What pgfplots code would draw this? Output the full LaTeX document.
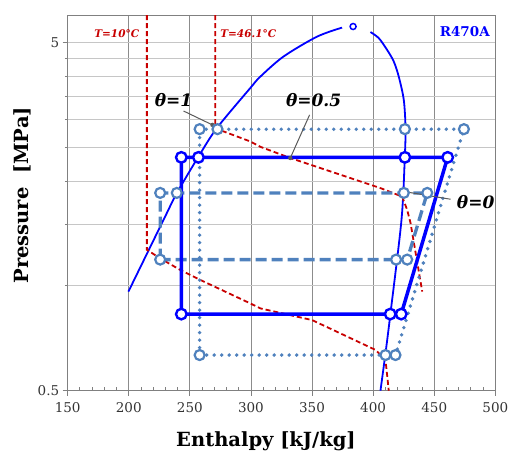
\documentclass[border=0pt]{standalone}
\usepackage{fontspec}
\setmainfont{DejaVu Serif}
\usepackage{pgfplots}
\pgfplotsset{compat=1.18}
\definecolor{myblue}{RGB}{0,0,255}
\definecolor{steel}{RGB}{79,129,189}
\definecolor{myred}{RGB}{200,0,0}
\definecolor{ann}{RGB}{90,90,90}
\begin{document}
\begin{tikzpicture}
\begin{axis}[
  scale only axis, width=427.6pt, height=375.7pt,
  xmin=150, xmax=500, ymin=0.5, ymax=6, ymode=log,
  xtick={150,200,...,500},
  ytick={0.5,5}, yticklabels={0.5,5},
  extra y ticks={1,1.5,2,2.5,3,3.5,4,4.5},
  extra y tick labels={},
  extra y tick style={major tick length=0pt},
  extra x ticks={160,170,180,190,210,220,230,240,260,270,280,290,310,320,330,340,360,370,380,390,410,420,430,440,460,470,480,490},
  extra x tick labels={},
  extra x tick style={grid=none, tick align=inside, major tick length=4pt},
  xmajorgrids, ymajorgrids,
  tick align=outside, major tick length=5pt,
  tick pos=left,
  axis line style={gray, line width=0.9pt},
  every tick/.style={gray, line width=0.9pt},
  x grid style={gray!90, line width=0.9pt},
  y grid style={gray!45, line width=0.9pt},
  /pgf/number format/assume math mode=true,
  tick label style={font=\fontsize{13.5}{16}\selectfont, text=black!80},
  xticklabel style={yshift=-3pt},
  xlabel={Enthalpy [kJ/kg]},
  ylabel={Pressure\ \ [MPa]},
  xlabel style={at={(axis description cs:0.4637,-0.134)}, anchor=center, font=\fontsize{19.5}{22}\selectfont\bfseries},
  ylabel style={at={(axis description cs:-0.107,0.52)}, anchor=center, font=\fontsize{19.5}{22}\selectfont\bfseries},
  clip=true,
]
% saturation dome
\addplot[myblue, line width=1.8pt, smooth] coordinates {
(199.7,0.963) (228.4,1.547) (239.3,1.846) (257.0,2.35) (272.1,2.84) (299.4,3.70) (307.6,3.99) (326.7,4.56) (354.1,5.20) (374.6,5.52)};
\addplot[myblue, line width=1.8pt, smooth] coordinates {
(397.8,5.36) (404.6,5.15) (411.5,4.76) (416.9,4.41) (421.0,3.99) (425.1,3.42) (426.5,2.84) (425.9,2.33) (423.2,1.547) (414.2,0.834) (410.1,0.640) (406.0,0.5)};
\addplot[only marks, mark=*, mark size=3pt, mark options={draw=myblue, fill=white, line width=1.5pt}] coordinates {(383.6,5.56)};
% isotherms
\addplot[myred, line width=1.8pt, dash pattern=on 5pt off 3pt] coordinates {
(214.8,6) (214.8,1.27) (225.7,1.2) (242.2,1.111) (258.6,1.04) (299.4,0.891) (307.6,0.862) (350,0.798) (401.9,0.655) (410.1,0.614) (412.8,0.5)};
\addplot[myred, line width=1.8pt, dash pattern=on 5pt off 3pt] coordinates {
(270.7,6) (270.7,2.85) (272.6,2.82) (299.4,2.60) (307.6,2.51) (332.2,2.33) (406.1,1.909) (423.8,1.805) (427.9,1.652) (430.6,1.517) (440.2,0.963)};
% dotted cycle
\addplot[steel, line width=3.8pt, line cap=round, dash pattern=on 0pt off 7.5pt] coordinates {
(258,0.633) (258,2.82) (272.6,2.82) (426,2.82) (474.3,2.82) (418.3,0.633) (410.1,0.633) (258,0.633)};
% dashed cycle
\addplot[steel, line width=3.3pt, dash pattern=on 11pt off 5pt] coordinates {
(225.7,1.19) (225.7,1.85) (239.3,1.85) (425.1,1.85) (444.3,1.85) (427.9,1.19) (418.8,1.19) (225.7,1.19)};
% solid cycle
\addplot[myblue, line width=3.5pt] coordinates {
(243,0.83) (243,2.34) (257,2.34) (426,2.34) (461,2.34) (423,0.83) (414,0.83) (243,0.83)};
% markers
\addplot[only marks, mark=*, mark size=5pt, mark options={draw=steel, fill=white, line width=2.2pt}] coordinates {
(258,0.633) (258,2.82) (272.6,2.82) (426,2.82) (474.3,2.82) (418.3,0.633) (410.1,0.633)};
\addplot[only marks, mark=*, mark size=5pt, mark options={draw=steel, fill=white, line width=2.2pt}] coordinates {
(225.7,1.19) (225.7,1.85) (239.3,1.85) (425.1,1.85) (444.3,1.85) (427.9,1.19) (418.8,1.19)};
\addplot[only marks, mark=*, mark size=5.3pt, mark options={draw=myblue, fill=white, line width=2.4pt}] coordinates {
(243,0.83) (243,2.34) (257,2.34) (426,2.34) (461,2.34) (423,0.83) (414,0.83)};
% annotations
\draw[ann, line width=1pt] (axis cs:244.8,3.18) -- (axis cs:268.5,2.90);
\fill[ann] (axis cs:268.5,2.90) circle (2.2pt);
\draw[ann, line width=1pt] (axis cs:348.0,3.10) -- (axis cs:332.2,2.33);
\fill[ann] (axis cs:332.2,2.33) circle (2.2pt);
\draw[ann, line width=1pt] (axis cs:463.4,1.774) -- (axis cs:427.9,1.86);
\fill[ann] (axis cs:427.9,1.86) circle (2.2pt);
\node[font=\fontsize{17}{20}\selectfont\bfseries\itshape] at (axis cs:236.6,3.42) {θ=1};
\node[font=\fontsize{17}{20}\selectfont\bfseries\itshape] at (axis cs:351.3,3.42) {θ=0.5};
\node[font=\fontsize{17}{20}\selectfont\bfseries\itshape] at (axis cs:483.9,1.745) {θ=0};
\node[font=\fontsize{10.5}{12}\selectfont\bfseries\itshape, text=myred, anchor=east, inner sep=0pt] at (axis cs:208.7,5.32) {T=10°C};
\node[font=\fontsize{10.5}{12}\selectfont\bfseries\itshape, text=myred, anchor=west, inner sep=0pt] at (axis cs:274.8,5.32) {T=46.1°C};
\node[font=\fontsize{13.5}{15}\selectfont\bfseries, text=myblue, anchor=east, inner sep=0pt] at (axis cs:495.6,5.36) {R470A};
\end{axis}
\pgfresetboundingbox
\path[use as bounding box] ([xshift=-67.7pt,yshift=-67.3pt]current axis.south west) rectangle ([xshift=17.7pt,yshift=15pt]current axis.north east);
\end{tikzpicture}
\end{document}
